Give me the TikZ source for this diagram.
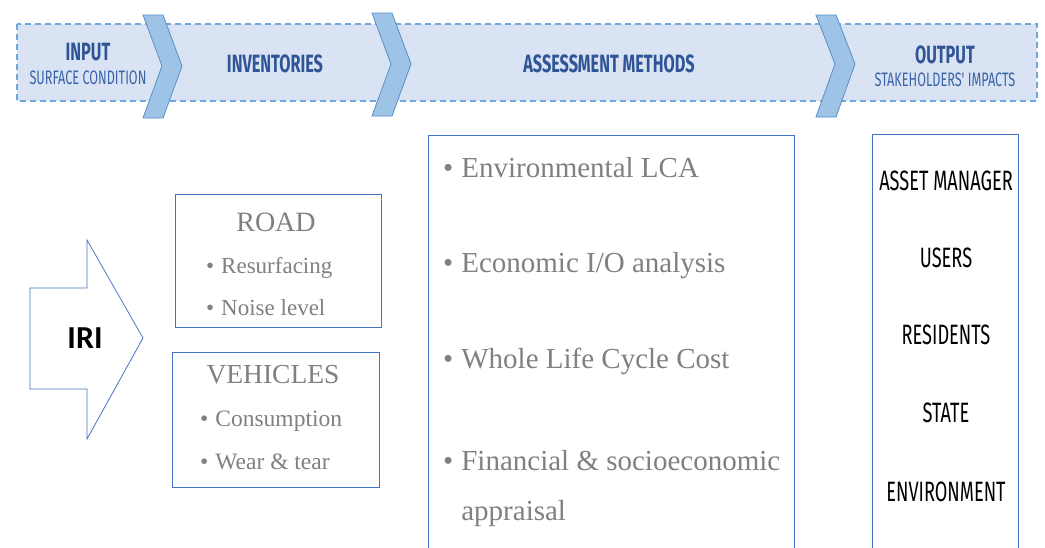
\documentclass[tikz,border=0pt]{standalone}
\usepackage{fontspec}
\setmainfont{Liberation Serif}
\newfontfamily\agency[FakeStretch=0.65]{Fira Sans}
\newfontfamily\calib{Carlito}
\definecolor{bandfill}{HTML}{DAE3F3}
\definecolor{banddash}{HTML}{6FA8DC}
\definecolor{chevfill}{HTML}{9DC3E6}
\definecolor{chevline}{HTML}{5B8EC4}
\definecolor{hdr}{HTML}{2F5597}
\definecolor{hdrsub}{HTML}{3A64A8}
\definecolor{boxline}{HTML}{4472C4}
\definecolor{txtgray}{HTML}{808080}
\tikzset{
  band/.style={draw=banddash, fill=bandfill, line width=1.2pt, dash pattern=on 6pt off 4pt},
  chev/.style={draw=chevline, fill=chevfill, line width=0.8pt, line join=miter},
  hdrtitle/.style={text=hdr, font=\agency\bfseries\fontsize{25}{25}\selectfont, inner sep=0pt},
  hdrsubt/.style={text=hdrsub, font=\agency\fontsize{19.5}{19.5}\selectfont, inner sep=0pt},
  frame/.style={draw=boxline, line width=0.8pt, fill=white},
  graytxt/.style={text=txtgray, inner sep=0pt, anchor=west},
  outtxt/.style={text=black, font=\agency\fontsize{28}{28}\selectfont, inner sep=0pt},
}
\begin{document}
\begin{tikzpicture}[x=1pt,y=-1pt]
\useasboundingbox (0,0) rectangle (1045,547);
\fill[white] (0,0) rectangle (1045,547);
% top band
\draw[band] (17,24) rectangle (1037,101);
\draw[chev] (143,15) -- (163,15) -- (182,66) -- (163,118) -- (143,118) -- (162,66) -- cycle;
\draw[chev] (372,13) -- (392,13) -- (411,64) -- (392,116) -- (372,116) -- (391,64) -- cycle;
\draw[chev] (816,15) -- (836,15) -- (855,64) -- (836,117) -- (816,117) -- (835,64) -- cycle;
\node[hdrtitle] (input) at (88,52) {INPUT};
\node[hdrsubt] (inputsub) at (88,78) {SURFACE CONDITION};
\node[hdrtitle] (inv) at (275,64) {INVENTORIES};
\node[hdrtitle] (assess) at (609,64) {ASSESSMENT METHODS};
\node[hdrtitle] (output) at (945,55) {OUTPUT};
\node[hdrsubt] (outputsub) at (945,80) {STAKEHOLDERS' IMPACTS};
% IRI arrow
\draw[draw=boxline, line width=0.8pt, fill=white, line join=miter] (30,288) -- (87,288) -- (87,240) -- (143,338) -- (87,439) -- (87,389) -- (30,389) -- cycle;
\node[font=\calib\bfseries\fontsize{32}{32}\selectfont, inner sep=0pt] (iri) at (85,338) {IRI};
% inventories boxes
\draw[frame] (175,194) rectangle (381,327);
\draw[frame] (172,352) rectangle (379,487);
\node[text=txtgray, inner sep=0pt, font=\fontsize{28}{28}\selectfont] (road) at (276,222) {ROAD};
\node[graytxt, font=\fontsize{23}{23}\selectfont] (resurf) at (206,268) {\textbullet\hspace{7pt}Resurfacing};
\node[graytxt, font=\fontsize{23}{23}\selectfont] (noise) at (206,308) {\textbullet\hspace{7pt}Noise level};
\node[text=txtgray, inner sep=0pt, font=\fontsize{27.5}{27.5}\selectfont] (veh) at (273,375) {VEHICLES};
\node[graytxt, font=\fontsize{23.5}{23.5}\selectfont] (cons) at (200,421) {\textbullet\hspace{7pt}Consumption};
\node[graytxt, font=\fontsize{23.5}{23.5}\selectfont] (wear) at (200,462) {\textbullet\hspace{7pt}Wear \& tear};
% assessment box
\draw[frame] (428,135) -- (428,560) (428,135) -- (794,135) -- (794,560);
\node[graytxt, font=\fontsize{29}{29}\selectfont] (lca) at (443,168) {\textbullet\hspace{8pt}Environmental LCA};
\node[graytxt, font=\fontsize{29}{29}\selectfont] (io) at (443,266) {\textbullet\hspace{8pt}Economic I/O analysis};
\node[graytxt, font=\fontsize{29}{29}\selectfont] (wlcc) at (443,361) {\textbullet\hspace{8pt}Whole Life Cycle Cost};
\node[graytxt, font=\fontsize{29}{29}\selectfont] (fin) at (443,461) {\textbullet\hspace{8pt}Financial \& socioeconomic};
\node[graytxt, font=\fontsize{29}{29}\selectfont, anchor=base west] (appr) at (443,520) {\phantom{\textbullet}\hspace{8pt}appraisal};
% output box
\draw[frame] (872,560) -- (872,134) -- (1018,134) -- (1018,560);
\node[outtxt] (am) at (946,181) {ASSET MANAGER};
\node[outtxt] (users) at (946,258) {USERS};
\node[outtxt] (res) at (946,335) {RESIDENTS};
\node[outtxt] (state) at (946,413) {STATE};
\node[outtxt] (env) at (946,492) {ENVIRONMENT};
\end{tikzpicture}
\end{document}
